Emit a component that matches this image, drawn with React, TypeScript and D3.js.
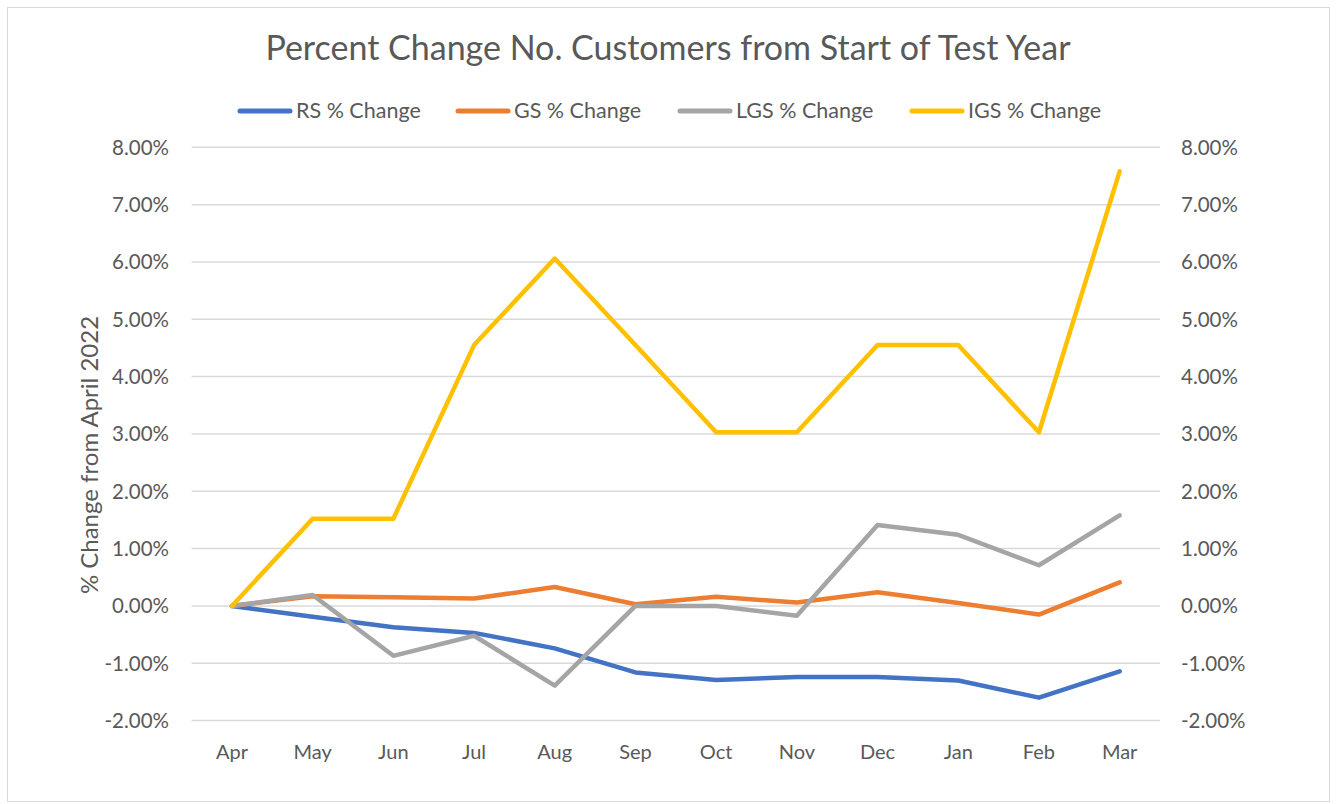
import React from "react";
import * as d3 from "d3";

const months = ["Apr", "May", "Jun", "Jul", "Aug", "Sep", "Oct", "Nov", "Dec", "Jan", "Feb", "Mar"];
const rsChange = [0, -0.19, -0.37, -0.47, -0.74, -1.16, -1.29, -1.24, -1.24, -1.3, -1.6, -1.14];
const gsChange = [0, 0.17, 0.15, 0.13, 0.33, 0.03, 0.16, 0.06, 0.24, 0.05, -0.15, 0.41];
const lgsChange = [0, 0.19, -0.87, -0.52, -1.39, 0.0, 0.0, -0.17, 1.41, 1.24, 0.71, 1.58];
const igsChange = [0, 1.52, 1.52, 4.55, 6.06, 4.55, 3.03, 3.03, 4.55, 4.55, 3.03, 7.58];
const yTicks = [-2, -1, 0, 1, 2, 3, 4, 5, 6, 7, 8];

const seriesList = [
  { name: "RS % Change", values: rsChange, color: "#4472C4" },
  { name: "GS % Change", values: gsChange, color: "#ED7D31" },
  { name: "LGS % Change", values: lgsChange, color: "#A5A5A5" },
  { name: "IGS % Change", values: igsChange, color: "#FFC000" },
];

const W = 1337;
const H = 804;
const font = "Lato, 'Open Sans', sans-serif";
const textColor = "#595959";

export default function App() {
  const x = d3.scaleBand<string>().domain(months).range([191.6, 1160]);
  const y = d3.scaleLinear().domain([-2, 8]).range([720.6, 147.3]);
  const cx = (m: string) => (x(m) as number) + x.bandwidth() / 2;
  const line = d3
    .line<number>()
    .x((_, i) => cx(months[i]))
    .y((v) => y(v));

  const legendX = [240, 458, 680, 912];

  return (
    <svg width={W} height={H} style={{ position: "absolute", left: 0, top: 0, background: "#fff" }}>
      <rect x={7.5} y={7.5} width={1322} height={794} fill="#fff" stroke="#D9D9D9" strokeWidth={1} />
      <text x={668} y={60} textAnchor="middle" fontFamily={font} fontSize={34} fill={textColor}>
        Percent Change No. Customers from Start of Test Year
      </text>
      {seriesList.map((s, i) => (
        <g key={s.name}>
          <line x1={legendX[i]} x2={legendX[i] + 50} y1={111} y2={111} stroke={s.color} strokeWidth={5} strokeLinecap="round" />
          <text x={legendX[i] + 56} y={118} fontFamily={font} fontSize={21.5} fill={textColor}>
            {s.name}
          </text>
        </g>
      ))}
      {yTicks.map((t) => (
        <g key={t}>
          <line x1={191.6} x2={1160} y1={y(t)} y2={y(t)} stroke="#D9D9D9" strokeWidth={1.5} />
          <text x={169} y={y(t) + 7.5} textAnchor="end" fontFamily={font} fontSize={20.5} fill={textColor}>
            {t.toFixed(2) + "%"}
          </text>
          <text x={1181} y={y(t) + 7.5} textAnchor="start" fontFamily={font} fontSize={20.5} fill={textColor}>
            {t.toFixed(2) + "%"}
          </text>
        </g>
      ))}
      {months.map((m) => (
        <text key={m} x={cx(m)} y={759} textAnchor="middle" fontFamily={font} fontSize={20} fill={textColor}>
          {m}
        </text>
      ))}
      <text
        transform={`translate(98, 455) rotate(-90)`}
        textAnchor="middle"
        fontFamily={font}
        fontSize={24}
        fill={textColor}
      >
        % Change from April 2022
      </text>
      {seriesList.map((s) => (
        <path
          key={s.name}
          d={line(s.values) as string}
          fill="none"
          stroke={s.color}
          strokeWidth={4.5}
          strokeLinejoin="round"
          strokeLinecap="round"
        />
      ))}
    </svg>
  );
}
